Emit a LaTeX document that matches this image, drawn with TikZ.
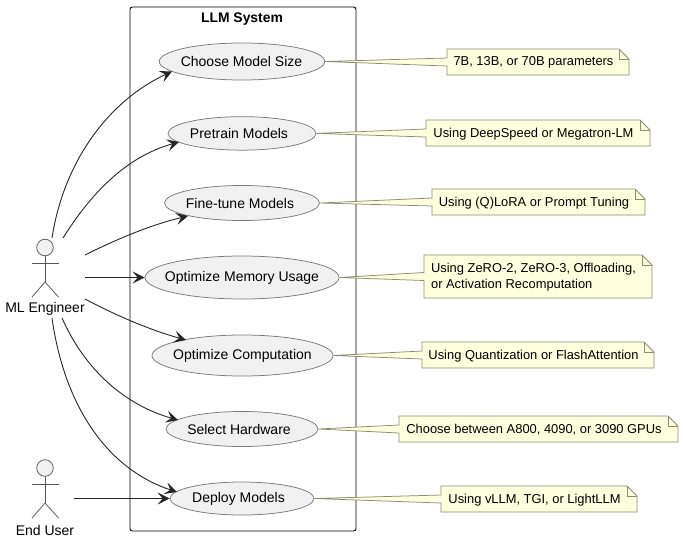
\documentclass[tikz,border=0pt]{standalone}
\usepackage{fontspec}
\setmainfont{Liberation Sans}
\usetikzlibrary{arrows.meta,calc,shapes.geometric}
\definecolor{ucfill}{HTML}{F1F1F1}
\definecolor{ucline}{HTML}{7A7A7A}
\definecolor{notefill}{HTML}{FEFFDD}
\definecolor{noteline}{HTML}{8C8C70}
\definecolor{actline}{HTML}{555555}
\tikzset{
  usecase/.style={ellipse,draw=ucline,fill=ucfill,line width=0.75pt,inner xsep=-20pt,inner ysep=0pt,font=\fontsize{14}{16}\selectfont},
  nudge/.style={execute at begin node={\kern-#1}},
  notetext/.style={inner sep=0pt,align=left,font=\fontsize{12.9}{16.5}\selectfont,anchor=center},
  actorhead/.style={circle,draw=actline,fill=ucfill,line width=0.75pt,minimum size=16.6pt,inner sep=0pt},
  actorlabel/.style={inner sep=0pt,font=\fontsize{14}{16}\selectfont},
  limb/.style={draw=actline,line width=0.75pt},
  flow/.style={-{Stealth[length=12pt,width=12pt,inset=5pt]},draw=black!85,line width=0.9pt},
  tether/.style={draw=noteline,fill=notefill,line width=0.75pt},
  systembox/.style={draw=black,line width=0.9pt,rounded corners=2.5pt},
  systemtitle/.style={inner sep=0pt,font=\bfseries\fontsize{13.9}{16}\selectfont}
}
% #1 name, #2 use case, #3 left, #4 top, #5 right, #6 bottom, #7 text
\newcommand{\notecard}[7]{%
  \coordinate (#1c) at ($(#3,#4)!0.5!(#5,#6)$);
  \path[tether] (#2.east) -- (#3,{(#4+#6)/2-4}) -- (#3,#4) -- ({#5-10},#4) -- (#5,{#4+10}) -- (#5,#6) -- (#3,#6) -- (#3,{(#4+#6)/2+4}) -- cycle;
  \draw[tether,fill=none] ({#5-10},#4) -- ({#5-10},{#4+10}) -- (#5,{#4+10});
  \node[notetext] (#1) at ([xshift=-4.5pt,yshift=-0.7pt]#1c) {#7};
}
\begin{document}
\begin{tikzpicture}[x=1pt,y=-1pt]
\useasboundingbox (0,0) rectangle (683,542);
\fill[white] (0,0) rectangle (683,542);
\draw[systembox] (130,7) rectangle (356,531);
\node[systemtitle] (sys) at (242,19.5) {LLM System};

\node[usecase,minimum width=165.5pt,minimum height=37pt,nudge=1pt] (u1) at (242,61.5) {Choose Model Size};
\node[usecase,minimum width=148pt,minimum height=33.5pt,nudge=6pt] (u2) at (242,133.4) {Pretrain Models};
\node[usecase,minimum width=155pt,minimum height=35pt,nudge=4pt] (u3) at (242,203) {Fine-tune Models};
\node[usecase,minimum width=194pt,minimum height=43pt] (u4) at (242,277.5) {Optimize Memory Usage};
\node[usecase,minimum width=181pt,minimum height=41pt] (u5) at (242.5,355.5) {Optimize Computation};
\node[usecase,minimum width=152pt,minimum height=35pt,nudge=6pt] (u6) at (242,429) {Select Hardware};
\node[usecase,minimum width=144pt,minimum height=33pt,nudge=7pt] (u7) at (242,498.5) {Deploy Models};

\notecard{n1}{u1}{447}{49}{629}{75}{7B, 13B, or 70B parameters}
\notecard{n2}{u2}{426}{120}{650}{146}{Using DeepSpeed or Megatron-LM}
\notecard{n3}{u3}{432}{189}{645}{215}{Using (Q)LoRA or Prompt Tuning}
\notecard{n4}{u4}{424}{255}{652}{298}{Using ZeRO-2, ZeRO-3, Offloading,\\or Activation Recomputation}
\notecard{n5}{u5}{422}{342}{654}{368}{Using Quantization or FlashAttention}
\notecard{n6}{u6}{399}{416}{678}{442}{Choose between A800, 4090, or 3090 GPUs}
\notecard{n7}{u7}{441}{486}{637}{512}{Using vLLM, TGI, or LightLLM}

% actors
\node[actorhead] (mlhead) at (45,247.5) {};
\node[actorlabel] (ml) at (45,309) {ML Engineer};
\coordinate (mlhip) at (45,282);
\draw[limb] (mlhead.south) -- (mlhip);
\draw[limb] (32,263) -- (58.5,263);
\draw[limb] (32,297) -- (mlhip) -- (58.5,297);
\node[actorhead] (euhead) at (45,468) {};
\node[actorlabel] (eu) at (45,530) {End User};
\coordinate (euhip) at (45,503);
\draw[limb] (euhead.south) -- (euhip);
\draw[limb] (32,484) -- (58.5,484);
\draw[limb] (32,518) -- (euhip) -- (58.5,518);

% connectors
\coordinate (a1) at (52,238);
\coordinate (a2) at (63,238);
\coordinate (a3) at (85,255);
\coordinate (a4) at (85,277.5);
\coordinate (a5) at (85,299);
\coordinate (a6) at (62,318);
\coordinate (a7) at (52,318);
\coordinate (a8) at (74,498.5);
\coordinate (e1) at (172,71.5);
\coordinate (e2) at (179,142);
\coordinate (e3) at (188,216);
\coordinate (e5) at (186,340);
\coordinate (e6) at (178,420);
\coordinate (e7) at (177,492);
\draw[flow] (a1) .. controls (64,160) and (110,100) .. (e1);
\draw[flow] (a2) .. controls (90,195) and (125,157) .. (e2);
\draw[flow] (a3) .. controls (115,240) and (150,225) .. (e3);
\draw[flow] (a4) -- (u4.west);
\draw[flow] (a5) .. controls (115,315) and (150,330) .. (e5);
\draw[flow] (a6) .. controls (85,370) and (125,405) .. (e6);
\draw[flow] (a7) .. controls (65,410) and (110,470) .. (e7);
\draw[flow] (a8) -- (u7.west);
\end{tikzpicture}
\end{document}
